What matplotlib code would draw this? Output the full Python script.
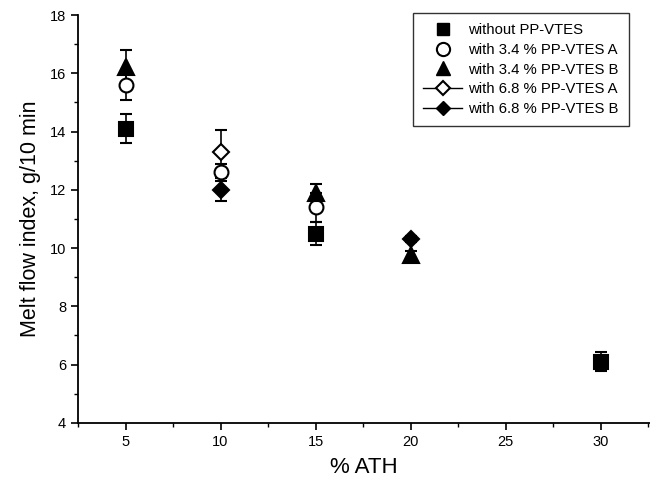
import matplotlib
matplotlib.use("Agg")
import matplotlib.pyplot as plt
from matplotlib.lines import Line2D
from matplotlib.ticker import MultipleLocator

plt.rcParams['font.family'] = ['Liberation Sans', 'DejaVu Sans']

# Data
x_without = [5, 15, 30]
y_without = [14.1, 10.5, 6.1]
e_without = [0.5, 0.4, 0.32]

x_34A = [5, 10, 15]
y_34A = [15.6, 12.6, 11.4]
e_34A = [0.5, 0.3, 0.5]

x_34B = [5, 15, 20]
y_34B = [16.2, 11.9, 9.75]
e_34B = [0.6, 0.3, 0.15]

x_68A = [10]
y_68A = [13.3]
e_68A = [0.75]

x_68B = [10, 20]
y_68B = [12.0, 10.3]
e_68B = [0.4, 0.1]

labels = ["without PP-VTES", "with 3.4 % PP-VTES A", "with 3.4 % PP-VTES B",
          "with 6.8 % PP-VTES A", "with 6.8 % PP-VTES B"]

fig = plt.figure(figsize=(6.5, 4.86), dpi=100)
ax = fig.add_axes([0.12, 0.13, 0.88, 0.839])

series = [
    (x_without, y_without, e_without, 's', 'black', 9.5),
    (x_34A, y_34A, e_34A, 'o', 'white', 10),
    (x_34B, y_34B, e_34B, '^', 'black', 11),
    (x_68A, y_68A, e_68A, 'D', 'white', 8),
    (x_68B, y_68B, e_68B, 'D', 'black', 8),
]
for xs, ys, es, m, fc, ms in series:
    ax.errorbar(xs, ys, yerr=es, fmt=m, mfc=fc, mec='black', mew=1.5, ms=ms,
                ecolor='black', elinewidth=1.2, capsize=4.5, capthick=1.2, color='black')

ax.set_xlim(2.5, 32.6)
ax.set_ylim(4, 18)
ax.xaxis.set_major_locator(MultipleLocator(5))
ax.xaxis.set_minor_locator(MultipleLocator(2.5))
ax.yaxis.set_major_locator(MultipleLocator(2))
ax.yaxis.set_minor_locator(MultipleLocator(1))
ax.spines['top'].set_visible(False)
ax.spines['right'].set_visible(False)
for s in ['left', 'bottom']:
    ax.spines[s].set_linewidth(1.3)
ax.tick_params(which='major', direction='out', length=5, width=1.2, labelsize=10.5)
ax.tick_params(which='minor', direction='out', length=3, width=1.0)

ax.set_xlabel('% ATH', fontsize=16, labelpad=6)
ax.set_ylabel('Melt flow index, g/10 min', fontsize=15.5, labelpad=6)

handles = [
    Line2D([], [], marker='s', ls='none', mfc='black', mec='black', ms=9),
    Line2D([], [], marker='o', ls='none', mfc='white', mec='black', mew=1.5, ms=9.5),
    Line2D([], [], marker='^', ls='none', mfc='black', mec='black', ms=10.5),
    Line2D([], [], marker='D', ls='-', color='black', lw=1, mfc='white', mec='black', mew=1.5, ms=7.5),
    Line2D([], [], marker='D', ls='-', color='black', lw=1, mfc='black', mec='black', ms=7.5),
]
leg = ax.legend(handles, labels, loc='upper left', bbox_to_anchor=(413/650, 1 - 13/486),
                bbox_transform=fig.transFigure, fontsize=10.7, frameon=True, fancybox=False,
                edgecolor='black', handlelength=2.6, handletextpad=0.4, borderpad=0.7,
                labelspacing=0.38, borderaxespad=0)
leg.get_frame().set_linewidth(1.0)

fig.savefig('out.png', dpi=100)
